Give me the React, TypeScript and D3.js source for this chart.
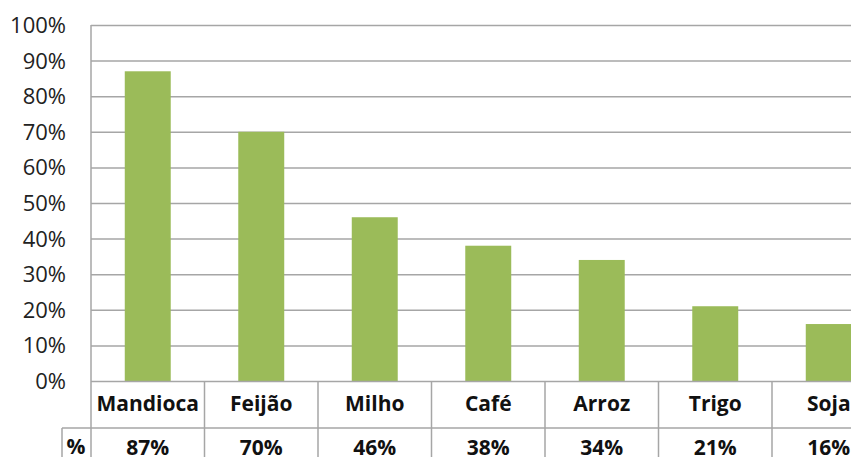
import React from "react";
import * as d3 from "d3";

const categories = ["Mandioca", "Feijão", "Milho", "Café", "Arroz", "Trigo", "Soja"];
const values = [87, 70, 46, 38, 34, 21, 16];
const valueLabels = ["87%", "70%", "46%", "38%", "34%", "21%", "16%"];
const yTicks = [0, 10, 20, 30, 40, 50, 60, 70, 80, 90, 100];
const rowHeader = "%";

export default function App() {
  const W = 851, H = 457;
  const left = 91, top = 25, bottom = 381;
  const catW = 113.5;
  const x = d3.scaleBand<string>().domain(categories).range([left, left + catW * categories.length]).paddingInner(0.595).paddingOuter(0.2975);
  const y = d3.scaleLinear().domain([0, 100]).range([bottom, top]);
  const row1Bottom = 428;
  const font = "Open Sans, Liberation Sans, sans-serif";
  const grid = "#a6a6a6";
  return (
    <svg width={W} height={H} style={{ position: "absolute", left: 0, top: 0, background: "#fff" }}>
      {yTicks.map((t) => (
        <g key={t}>
          {t > 0 && <line x1={left} x2={W} y1={y(t) + 0.5} y2={y(t) + 0.5} stroke={grid} strokeWidth={1.5} />}
          <text x={66} y={y(t) + 8} textAnchor="end" fontFamily={font} fontSize={22} fill="#222">{t}%</text>
        </g>
      ))}
      {categories.map((c, i) => (
        <rect key={c} x={x(c)} width={x.bandwidth()} y={y(values[i])} height={bottom - y(values[i])} fill="#9BBB59" />
      ))}
      <line x1={left} x2={left} y1={top} y2={H} stroke={grid} strokeWidth={1.5} />
      <line x1={left} x2={W} y1={bottom + 0.5} y2={bottom + 0.5} stroke={grid} strokeWidth={1.5} />
      <line x1={62} x2={W} y1={row1Bottom} y2={row1Bottom} stroke={grid} strokeWidth={1.5} />
      <line x1={62} x2={62} y1={row1Bottom} y2={H} stroke={grid} strokeWidth={1.5} />
      {categories.map((c, i) => (
        <g key={"t" + c}>
          <line x1={left + catW * (i + 1)} x2={left + catW * (i + 1)} y1={bottom} y2={H} stroke={grid} strokeWidth={1.5} />
          <text x={left + catW * (i + 0.5)} y={411} textAnchor="middle" fontFamily={font} fontWeight="bold" fontSize={21} fill="#111">{c}</text>
          <text x={left + catW * (i + 0.5)} y={455} textAnchor="middle" fontFamily={font} fontWeight="bold" fontSize={21} fill="#111">{valueLabels[i]}</text>
        </g>
      ))}
      <text x={76} y={454} textAnchor="middle" fontFamily={font} fontWeight="bold" fontSize={21} fill="#111">{rowHeader}</text>
    </svg>
  );
}
